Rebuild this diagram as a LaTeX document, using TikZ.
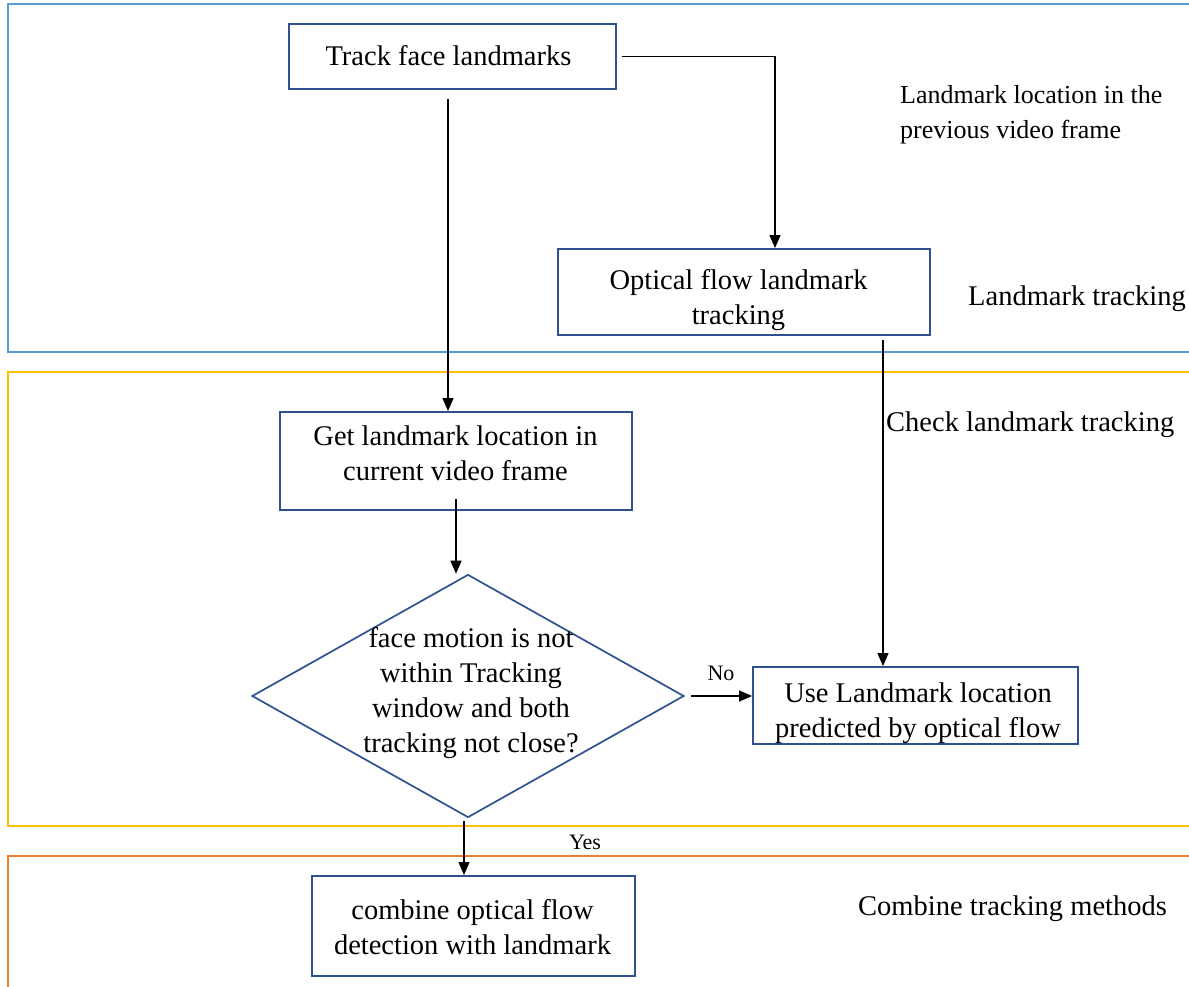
\documentclass[tikz,border=0pt]{standalone}
\usepackage{fontspec}
\setmainfont{Liberation Serif}
\usetikzlibrary{shapes.geometric,arrows.meta}

\definecolor{boxline}{HTML}{2F528F}
\definecolor{laneblue}{HTML}{5B9BD5}
\definecolor{laneyellow}{HTML}{FFC000}
\definecolor{laneorange}{HTML}{ED7D31}

\begin{document}
\begin{tikzpicture}[x=1pt,y=-1pt,
  stepbox/.style={draw=boxline, line width=1.9pt, inner sep=0pt},
  boxtext/.style={inner sep=0pt, align=center, font=\fontsize{28.5}{35}\selectfont},
  lane/.style={line width=2.5pt},
  conn/.style={line width=1.2pt, -{Triangle[length=13pt,width=11pt]}},
  lbl/.style={inner sep=0pt, anchor=west, align=left, font=\fontsize{28.5}{35}\selectfont},
  small/.style={inner sep=0pt, font=\fontsize{22}{26}\selectfont}]

\useasboundingbox (0,0) rectangle (1189,986);
\fill[white] (0,0) rectangle (1189,986);

% swim lanes, open to the right and bottom
\begin{scope}
  \clip (0,0) rectangle (1189,986);
  \draw[lane, laneblue]   (8,4)   rectangle (1220,352);
  \draw[lane, laneyellow] (8,372) rectangle (1220,826);
  \draw[lane, laneorange] (8,856) rectangle (1220,1010);
\end{scope}

% process steps (frames, then their texts)
\node[stepbox, minimum width=327pt, minimum height=65pt]  (track)   at (452.5,56.5)  {};
\node[stepbox, minimum width=372pt, minimum height=86pt]  (optical) at (744,292)     {};
\node[stepbox, minimum width=352pt, minimum height=98pt]  (getloc)  at (456,461)     {};
\node[stepbox, minimum width=325pt, minimum height=77pt]  (useflow) at (915.5,705.5) {};
\node[stepbox, minimum width=323pt, minimum height=100pt] (combine) at (473.5,926)   {};

\node[boxtext] (tracktext)   at (448.5,56)  {Track face landmarks};
\node[boxtext] (opticaltext) at (738.5,300) {Optical flow landmark\\tracking};
\node[boxtext] (getloctext)  at (455.5,453) {Get landmark location in\\current video frame};
\node[boxtext] (useflowtext) at (918,713)   {Use Landmark location\\predicted by optical flow};
\node[boxtext] (combinetext) at (472.5,927) {combine optical flow\\detection with landmark};

% decision
\node[diamond, draw=boxline, line width=1.7pt, inner sep=0pt,
      minimum width=432pt, minimum height=243pt] (decide) at (468,696) {};
\node[boxtext] (decidetext) at (471,693)
  {face motion is not\\within Tracking\\window and both\\tracking not close?};

% lane captions
\node[lbl, font=\fontsize{26}{35}\selectfont] (prevlbl) at (900,115) {Landmark location in the\\previous video frame};
\node[lbl] (tracklbl)   at (968,299) {Landmark tracking};
\node[lbl] (checklbl)   at (886,425) {Check landmark tracking};
\node[lbl] (combinelbl) at (858,909) {Combine tracking methods};

% connectors
\draw[conn] ([xshift=-4.5pt,yshift=-9pt]track.south) -- ([xshift=-4.5pt]track.south |- getloc.north);
\draw[conn] ([xshift=5pt]track.east) -| ([xshift=31pt]optical.north);
\draw[conn] ([yshift=12pt]getloc.south) -- (getloc.south |- decide.north);
\draw[conn] ([xshift=6pt]decide.east) -- (decide.east -| useflow.west);
\draw[conn] ([xshift=139pt,yshift=-4pt]optical.south) -- ([xshift=139pt]optical.south |- useflow.north);
\draw[conn] ([xshift=-4pt,yshift=-3pt]decide.south) -- ([xshift=-4pt]decide.south |- combine.north);

% branch labels
\node[small] (nolbl)  at (721,673) {No};
\node[small] (yeslbl) at (585,842) {Yes};

\end{tikzpicture}
\end{document}
